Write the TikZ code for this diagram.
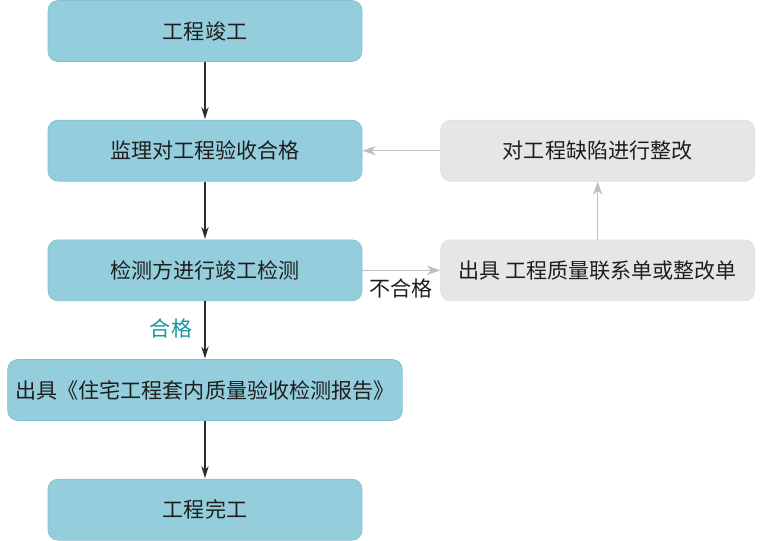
\documentclass[tikz,border=0pt]{standalone}
\usepackage{fontspec}
\setmainfont{Noto Sans CJK SC}
\usetikzlibrary{arrows.meta, positioning}
\definecolor{flowteal}{RGB}{148,206,220}
\definecolor{flowedge}{RGB}{130,192,208}
\definecolor{fixgray}{RGB}{230,230,230}
\definecolor{fixedge}{RGB}{222,222,222}
\definecolor{textdark}{RGB}{30,30,30}
\definecolor{arrowdark}{RGB}{40,44,52}
\definecolor{arrowgray}{RGB}{190,190,190}
\definecolor{passteal}{RGB}{20,150,160}

\begin{document}
\begin{tikzpicture}[
    node distance=43.5pt and 58.5pt,
    >=Stealth,
    every node/.style={font=\fontsize{15.8pt}{18pt}\selectfont, text=textdark},
    flowbox/.style={rectangle, draw=flowedge, fill=flowteal, line width=0.5pt,
        minimum width=235.5pt, minimum height=45.75pt, rounded corners=7.5pt,
        align=center},
    widebox/.style={flowbox, minimum width=296pt},
    fixbox/.style={rectangle, draw=fixedge, fill=fixgray, line width=0.5pt,
        minimum width=235.5pt, minimum height=45.75pt, rounded corners=7.5pt,
        align=center},
    arrow/.style={->, line width=1pt, arrowdark, shorten >=0.5pt,
        >={Stealth[length=9pt, width=5.5pt]}},
    grayarrow/.style={->, line width=1pt, arrowgray,
        >={Stealth[length=10pt, width=7pt, inset=3pt]}},
]
\useasboundingbox (0,0) rectangle (571.5pt,-405pt);

% === MAIN FLOW ===
\node[flowbox] (finish) at (153.75pt,-23.25pt) {工程竣工};
\node[flowbox, below=of finish] (accept) {监理对工程验收合格};
\node[flowbox, below=of accept] (inspect) {检测方进行竣工检测};
\node[widebox, below=of inspect] (report) {出具《住宅工程套内质量验收检测报告》};
\node[flowbox, below=of report] (done) {工程完工};

% === RECTIFICATION LOOP ===
\node[fixbox, right=of inspect] (notice) {出具 工程质量联系单或整改单};
\node[fixbox, right=of accept] (rectify) {对工程缺陷进行整改};

% === ARROWS ===
\draw[arrow] (finish) -- (accept);
\draw[arrow] (accept) -- (inspect);
\draw[arrow] (inspect) -- (report);
\draw[arrow] (report) -- (done);

\draw[grayarrow] (inspect) -- (notice);
\draw[grayarrow] (notice) -- (rectify);
\draw[grayarrow] (rectify) -- (accept);

% === LABELS ===
\node (fail) at (300.75pt,-216.5pt) {不合格};
\node[text=passteal] (pass) at (128.25pt,-246pt) {合格};

\end{tikzpicture}
\end{document}
